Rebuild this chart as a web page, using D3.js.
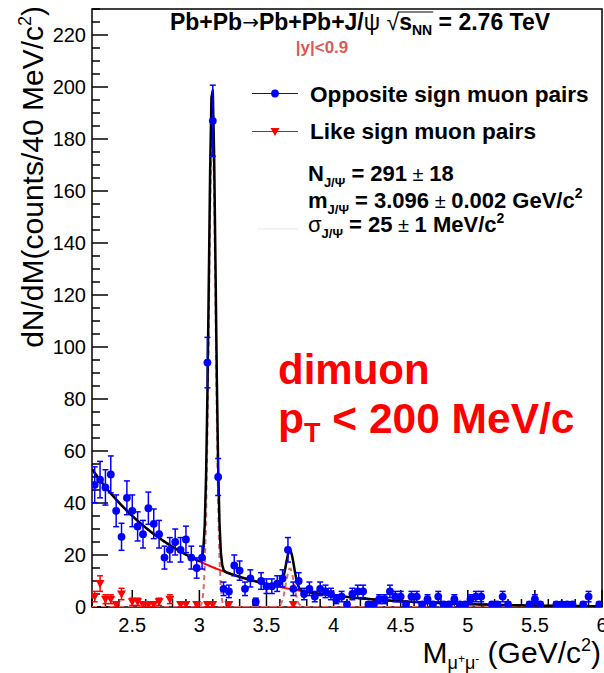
<!DOCTYPE html>
<html>
<head>
<meta charset="utf-8">
<script src="https://cdn.jsdelivr.net/npm/d3@7"></script>
<style>
  body { margin: 0; background: #fff; }
  svg { display: block; }
  text { font-family: "Liberation Sans", Arial, Helvetica, sans-serif; }
</style>
</head>
<body>
<svg id="chart" width="604" height="673"></svg>
<script>
// ---- Histogram binning: 40 MeV/c^2 bins from 2.2 to 6.0 GeV/c^2 ----
const binLow = 2.2;
const binWidth = 0.04;

// Opposite-sign dimuon pairs, counts per bin (bin centres 2.22 ... 5.98)
const oppositeSign = [
  47, 49, 46, 51, 37, 27, 42, 37, 31, 28,   // 2.22 - 2.58
  38, 32, 28, 19, 22, 25, 22, 26, 19, 15,   // 2.62 - 2.98
  19, 94, 187, 50, 7, 6, 16, 14, 7, 11,     // 3.02 - 3.38
  2, 10, 8, 8, 9, 11, 22, 7, 10, 5,         // 3.42 - 3.78
  7, 4, 7, 6, 5, 3, 4, 1, 5, 6,             // 3.82 - 4.18
  6, 1, 1, 3, 3, 6, 4, 4, 1, 4,             // 4.22 - 4.58
  4, 1, 3, 1, 4, 1, 1, 3, 1, 1,             // 4.62 - 4.98
  3, 4, 4, 0, 1, 1, 4, 1, 0, 0,             // 5.02 - 5.38
  0, 1, 3, 1, 0, 0, 1, 1, 1, 1,             // 5.42 - 5.78
  0, 1, 4, 0, 1                             // 5.82 - 5.98
];
const oppositeErr = [
  6.9, 7.0, 6.8, 7.1, 6.1, 5.2, 6.5, 6.1, 5.6, 5.3,
  6.2, 5.7, 5.3, 4.4, 4.7, 5.0, 4.7, 5.1, 4.4, 3.9,
  4.4, 9.7, 13.7, 7.1, 2.6, 2.4, 4.0, 3.7, 2.6, 3.3,
  1.4, 3.2, 2.8, 2.8, 3.0, 3.3, 4.7, 2.6, 3.2, 2.2,
  2.6, 2.0, 2.6, 2.4, 2.2, 1.7, 2.0, 1.0, 2.2, 2.4,
  2.4, 1.0, 1.0, 1.7, 1.7, 2.4, 2.0, 2.0, 1.0, 2.0,
  2.0, 1.0, 1.7, 1.0, 2.0, 1.0, 1.0, 1.7, 1.0, 1.0,
  1.7, 2.0, 2.0, 0, 1.0, 1.0, 2.0, 1.0, 0, 0,
  0, 1.0, 1.7, 1.0, 0, 0, 1.0, 1.0, 1.0, 1.0,
  0, 1.0, 2.0, 0, 1.0
];

// Like-sign dimuon pairs (only the non-empty bins)
const likeSignMass = [2.22, 2.26, 2.30, 2.34, 2.38, 2.42, 2.50, 2.54, 2.58, 2.62,
                      2.66, 2.70, 2.78, 2.86, 2.90, 2.98, 3.06, 3.10, 3.22, 3.70];
const likeSign     = [4, 9, 3, 3, 1, 5, 2, 2, 1, 1,
                      1, 2, 3, 1, 1, 1, 1, 1, 1, 1];
const likeSignErr  = [2.0, 3.0, 1.7, 1.7, 1.0, 2.2, 1.4, 1.4, 1.0, 1.0,
                      1.0, 1.4, 1.7, 1.0, 1.0, 1.0, 1.0, 1.0, 1.0, 1.0];

// Fit components: exponential continuum + J/psi and psi(2S) Gaussians
const jpsiFit  = { N: 291, mean: 3.096, sigma: 0.025 };
const psi2sFit = { N: 28,  mean: 3.675, sigma: 0.030 };
const bkgFit   = { A: 53,  slope: 1.38, m0: 2.2 };

// Axis ticks
const xMajor = [2.5, 3, 3.5, 4, 4.5, 5, 5.5, 6];
const xLabels = ["2.5", "3", "3.5", "4", "4.5", "5", "5.5", "6"];
const yMajor = [0, 20, 40, 60, 80, 100, 120, 140, 160, 180, 200, 220];

// ---- Layout ----
const svg = d3.select("#chart");
const plot = { left: 92, right: 602, top: 9, bottom: 607 };
const x = d3.scaleLinear().domain([2.2, 6.0]).range([plot.left, plot.right]);
const y = d3.scaleLinear().domain([0, 230]).range([plot.bottom, plot.top]);

const BLUE = "#0000ff", RED = "#ff0000", DASH = "#e06a6a";

svg.append("defs").append("clipPath").attr("id", "plotClip")
  .append("rect")
  .attr("x", plot.left).attr("y", plot.top)
  .attr("width", plot.right - plot.left).attr("height", plot.bottom - plot.top);

// Lays out a run of text pieces (sub/superscripts, mixed weights) left to right
function richText(parent, px, py, runs, anchor) {
  const g = parent.append("g");
  let cx = 0;
  runs.forEach(r => {
    const t = g.append("text")
      .attr("x", cx).attr("y", r.dy || 0)
      .attr("font-size", r.size)
      .attr("font-weight", r.weight || "normal")
      .attr("fill", r.fill || "#000")
      .style("white-space", "pre")
      .text(r.t);
    if (r.family) t.style("font-family", r.family);
    const w = t.node().getComputedTextLength();
    r.x0 = cx; r.w = w;
    cx += w + (r.gap || 0);
  });
  const shift = anchor === "middle" ? -cx / 2 : anchor === "end" ? -cx : 0;
  g.attr("transform", `translate(${px + shift},${py})`);
  return { g, runs, width: cx, shift };
}

// ---- Frame and axes ----
const axes = svg.append("g");
axes.append("rect")
  .attr("x", plot.left).attr("y", plot.top)
  .attr("width", plot.right - plot.left).attr("height", plot.bottom - plot.top)
  .attr("fill", "none").attr("stroke", "#000").attr("stroke-width", 1.5);

// x ticks: major every 0.5, minor every 0.1 (drawn inward)
const xMinor = d3.range(22, 61).map(v => v / 10).filter(v => !xMajor.some(m => Math.abs(m - v) < 1e-6));
axes.selectAll(".xmin").data(xMinor).join("line")
  .attr("x1", d => x(d)).attr("x2", d => x(d))
  .attr("y1", plot.bottom).attr("y2", plot.bottom - 8)
  .attr("stroke", "#000").attr("stroke-width", 1.5);
axes.selectAll(".xmaj").data(xMajor).join("line")
  .attr("x1", d => x(d)).attr("x2", d => x(d))
  .attr("y1", plot.bottom).attr("y2", plot.bottom - 17)
  .attr("stroke", "#000").attr("stroke-width", 1.5);
axes.selectAll(".xlab").data(xMajor).join("text")
  .attr("x", d => x(d)).attr("y", 632)
  .attr("text-anchor", "middle").attr("font-size", 20)
  .text((d, i) => xLabels[i]);

// y ticks: major every 20, minor every 5
const yMinor = d3.range(0, 231, 5).filter(v => v % 20 !== 0);
axes.selectAll(".ymin").data(yMinor).join("line")
  .attr("x1", plot.left).attr("x2", plot.left + 8)
  .attr("y1", d => y(d)).attr("y2", d => y(d))
  .attr("stroke", "#000").attr("stroke-width", 1.5);
axes.selectAll(".ymaj").data(yMajor).join("line")
  .attr("x1", plot.left).attr("x2", plot.left + 16)
  .attr("y1", d => y(d)).attr("y2", d => y(d))
  .attr("stroke", "#000").attr("stroke-width", 1.5);
axes.selectAll(".ylab").data(yMajor).join("text")
  .attr("x", 86).attr("y", d => y(d) + 7)
  .attr("text-anchor", "end").attr("font-size", 20)
  .text(d => d);

// ---- Fit curves ----
const gauss = (p, m) => p.N * binWidth / (p.sigma * Math.sqrt(2 * Math.PI)) *
  Math.exp(-0.5 * Math.pow((m - p.mean) / p.sigma, 2));
const bkg = m => bkgFit.A * Math.exp(-bkgFit.slope * (m - bkgFit.m0));
const total = m => bkg(m) + gauss(jpsiFit, m) + gauss(psi2sFit, m);
const samples = d3.range(0, 381).map(i => 2.2 + i * 0.01);

const curves = svg.append("g").attr("clip-path", "url(#plotClip)");
const line = f => d3.line().x(m => x(m)).y(m => y(f(m)))(samples);

curves.append("path").attr("d", line(bkg))
  .attr("fill", "none").attr("stroke", RED).attr("stroke-width", 2);
curves.append("path").attr("d", line(m => gauss(jpsiFit, m)))
  .attr("fill", "none").attr("stroke", DASH).attr("stroke-width", 2)
  .attr("stroke-dasharray", "5,4");
curves.append("path").attr("d", line(m => gauss(psi2sFit, m)))
  .attr("fill", "none").attr("stroke", DASH).attr("stroke-width", 2)
  .attr("stroke-dasharray", "5,4");
curves.append("path").attr("d", line(total))
  .attr("fill", "none").attr("stroke", "#000").attr("stroke-width", 2.5)
  .attr("stroke-linejoin", "round");

// ---- Data points ----
const pts = svg.append("g").attr("clip-path", "url(#plotClip)");
const osData = oppositeSign.map((v, i) => ({
  m: binLow + binWidth * (i + 0.5), v, e: oppositeErr[i]
})).filter(d => d.v > 0);
const lsData = likeSignMass.map((m, i) => ({ m, v: likeSign[i], e: likeSignErr[i] }));

function errorBars(data, color) {
  const g = pts.append("g").attr("stroke", color).attr("stroke-width", 1.5);
  data.forEach(d => {
    const cx = x(d.m), y1 = y(d.v - d.e), y2 = y(d.v + d.e);
    g.append("line").attr("x1", cx).attr("x2", cx).attr("y1", y1).attr("y2", y2);
    g.append("line").attr("x1", cx - 3).attr("x2", cx + 3).attr("y1", y1).attr("y2", y1);
    g.append("line").attr("x1", cx - 3).attr("x2", cx + 3).attr("y1", y2).attr("y2", y2);
  });
}
errorBars(lsData, RED);
errorBars(osData, BLUE);

const triPath = (cx, cy) => `M${cx - 4.5},${cy - 3.5}L${cx + 4.5},${cy - 3.5}L${cx},${cy + 4.5}Z`;
pts.selectAll(".ls").data(lsData).join("path")
  .attr("d", d => triPath(x(d.m), y(d.v))).attr("fill", RED);
pts.selectAll(".os").data(osData).join("circle")
  .attr("cx", d => x(d.m)).attr("cy", d => y(d.v)).attr("r", 3.9)
  .attr("fill", BLUE);

// ---- Axis titles ----
const yTitleG = svg.append("g").attr("transform", "translate(43,6) rotate(-90)");
richText(yTitleG, 0, 0, [
  { t: "dN/dM(counts/40 MeV/c", size: 30 },
  { t: "2", size: 18, dy: -12 },
  { t: ")", size: 30 }
], "end");

richText(svg, 601, 663, [
  { t: "M", size: 30 },
  { t: "μ", size: 18, dy: 6 },
  { t: "+", size: 12, dy: 0 },
  { t: "μ", size: 18, dy: 6 },
  { t: "-", size: 12, dy: 0 },
  { t: " (GeV/c", size: 30 },
  { t: "2", size: 18, dy: -12 },
  { t: ")", size: 30 }
], "end");

// ---- Header ----
const title = richText(svg, 360, 30, [
  { t: "Pb+Pb", size: 23, weight: "bold" },
  { t: "→", size: 20, family: '"DejaVu Sans", sans-serif', dy: -1 },
  { t: "Pb+Pb+J/", size: 23, weight: "bold" },
  { t: "ψ", size: 23 },
  { t: " ", size: 23 },
  { t: "√", size: 23 },
  { t: "s", size: 23, weight: "bold" },
  { t: "NN", size: 14, weight: "bold", dy: 5 },
  { t: " = 2.76 TeV", size: 23, weight: "bold" }
], "middle");
{
  const r = title.runs;
  title.g.append("line")
    .attr("x1", r[5].x0 + r[5].w - 1).attr("x2", r[7].x0 + r[7].w + 1)
    .attr("y1", -18).attr("y2", -18)
    .attr("stroke", "#000").attr("stroke-width", 1.2);
}

svg.append("text").attr("x", 322).attr("y", 53)
  .attr("text-anchor", "middle").attr("font-size", 17).attr("font-weight", "bold")
  .attr("fill", "#dc5a55").text("|y|<0.9");

// ---- Legend ----
const leg = svg.append("g");
leg.append("line").attr("x1", 252).attr("x2", 298).attr("y1", 93.5).attr("y2", 93.5)
  .attr("stroke", BLUE).attr("stroke-width", 1.2);
leg.append("circle").attr("cx", 275).attr("cy", 93.5).attr("r", 3.9).attr("fill", BLUE);
leg.append("text").attr("x", 310).attr("y", 101.5).attr("font-size", 22.6)
  .attr("font-weight", "bold").text("Opposite sign muon pairs");

leg.append("line").attr("x1", 252).attr("x2", 298).attr("y1", 131.5).attr("y2", 131.5)
  .attr("stroke", RED).attr("stroke-width", 1.2);
leg.append("path").attr("d", triPath(275, 131.5)).attr("fill", RED);
leg.append("text").attr("x", 310).attr("y", 139).attr("font-size", 22.6)
  .attr("font-weight", "bold").text("Like sign muon pairs");

leg.append("line").attr("x1", 257).attr("x2", 298).attr("y1", 229).attr("y2", 229)
  .attr("stroke", "#e6e6e6").attr("stroke-width", 1);

richText(leg, 308, 181, [
  { t: "N", size: 22, weight: "bold" },
  { t: "J/Ψ", size: 13, weight: "bold", dy: 6 },
  { t: " = 291", size: 22, weight: "bold" },
  { t: " ± ", size: 20 },
  { t: "18", size: 22, weight: "bold" }
], "start");
richText(leg, 308, 208, [
  { t: "m", size: 22, weight: "bold" },
  { t: "J/Ψ", size: 13, weight: "bold", dy: 6 },
  { t: " = 3.096", size: 22, weight: "bold" },
  { t: " ± ", size: 20 },
  { t: "0.002 GeV/c", size: 22, weight: "bold" },
  { t: "2", size: 14, weight: "bold", dy: -10 }
], "start");
richText(leg, 308, 232, [
  { t: "σ", size: 22 },
  { t: "J/Ψ", size: 13, weight: "bold", dy: 6 },
  { t: " = 25", size: 22, weight: "bold" },
  { t: " ± ", size: 20 },
  { t: "1 MeV/c", size: 22, weight: "bold" },
  { t: "2", size: 14, weight: "bold", dy: -9 }
], "start");

// ---- Annotation ----
svg.append("text").attr("x", 278).attr("y", 384).attr("font-size", 42)
  .attr("font-weight", "bold").attr("fill", RED).text("dimuon");
richText(svg, 278, 433, [
  { t: "p", size: 42.5, weight: "bold", fill: RED },
  { t: "T", size: 27, weight: "bold", fill: RED, dy: 9 },
  { t: " < 200 MeV/c", size: 42.5, weight: "bold", fill: RED }
], "start");
</script>
</body>
</html>
